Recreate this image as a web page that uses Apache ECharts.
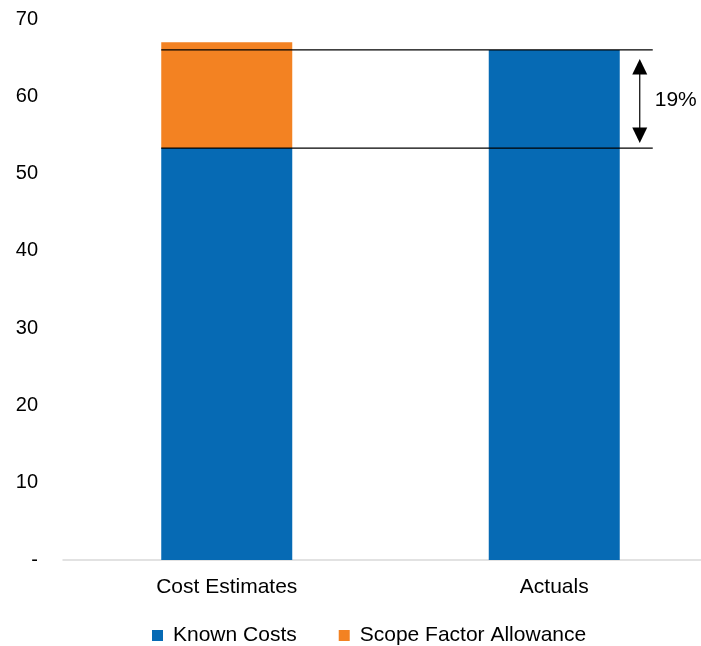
<!DOCTYPE html>
<html>
<head>
<meta charset="utf-8">
<script src="https://cdn.jsdelivr.net/npm/echarts@6/dist/echarts.min.js"></script>
<style>
html,body{margin:0;padding:0;background:#fff;overflow:hidden;width:701px;height:646px;}
#chart{width:719px;height:646px;}
</style>
</head>
<body>
<div id="chart"></div>
<script>
const categories = ['Cost Estimates', 'Actuals'];
const knownCosts = [53.3, 66];
const scopeFactorAllowance = [13.7, 0];
const yTicks = [0, 10, 20, 30, 40, 50, 60, 70];
const gapLabel = '19%';

const FONT = '"Liberation Sans", Arial, sans-serif';
const chart = echarts.init(document.getElementById('chart'), null, {renderer: 'canvas'});

chart.setOption({
  animation: false,
  grid: {left: 63, right: 1, top: 19, bottom: 86, containLabel: false},
  legend: {
    data: ['Known Costs', 'Scope Factor Allowance'],
    left: 147, top: 620,
    icon: 'rect', itemWidth: 11, itemHeight: 11, itemGap: 42,
    textStyle: {fontFamily: FONT, fontSize: 21, color: '#000', padding: [0, 0, 0, 5]}
  },
  xAxis: {
    type: 'category', data: categories,
    axisLine: {lineStyle: {color: '#d9d9d9', width: 1.5}},
    axisTick: {show: false},
    axisLabel: {fontFamily: FONT, fontSize: 21, color: '#000', margin: 17}
  },
  yAxis: {
    type: 'value', min: yTicks[0], max: yTicks[yTicks.length - 1], interval: 10,
    axisLine: {show: false}, axisTick: {show: false}, splitLine: {show: false},
    axisLabel: {fontFamily: FONT, fontSize: 20, color: '#000', margin: 25,
      formatter: v => v === 0 ? '-' : String(v)}
  },
  series: [
    {name: 'Known Costs', type: 'bar', stack: 'total', barWidth: '40%',
     itemStyle: {color: '#066AB4'}, data: knownCosts},
    {name: 'Scope Factor Allowance', type: 'bar', stack: 'total', barWidth: '40%',
     itemStyle: {color: '#F38222'}, data: scopeFactorAllowance},
    {name: 'annotation', type: 'custom', silent: true, clip: false, z: 10,
     data: [[0, knownCosts[0], knownCosts[1]]],
     encode: {x: 0, y: 1},
     renderItem: function (params, api) {
       const band = api.size([1, 0])[0];
       const low = api.coord([0, api.value(1)]);
       const high = api.coord([1, api.value(2)]);
       const x0 = low[0] - band * 0.2;
       const x1 = high[0] + band * 0.2 + 33;
       const ax = x1 - 13;
       const yTop = high[1] + 9;
       const yBot = low[1] - 5;
       const lineStyle = {stroke: '#000', lineWidth: 1.3};
       return {
         type: 'group',
         children: [
           {type: 'line', shape: {x1: x0, y1: high[1], x2: x1, y2: high[1]}, style: lineStyle},
           {type: 'line', shape: {x1: x0, y1: low[1], x2: x1, y2: low[1]}, style: lineStyle},
           {type: 'line', shape: {x1: ax, y1: yTop + 10, x2: ax, y2: yBot - 10}, style: {stroke: '#000', lineWidth: 1.2}},
           {type: 'polygon', shape: {points: [[ax, yTop], [ax - 7.5, yTop + 15.5], [ax + 7.5, yTop + 15.5]]}, style: {fill: '#000'}},
           {type: 'polygon', shape: {points: [[ax, yBot], [ax - 7.5, yBot - 15.5], [ax + 7.5, yBot - 15.5]]}, style: {fill: '#000'}},
           {type: 'text', style: {text: gapLabel, x: ax + 15, y: (high[1] + low[1]) / 2 + 1,
             verticalAlign: 'middle', align: 'left', fontFamily: FONT, fontSize: 21, fill: '#000'}}
         ]
       };
     }
    }
  ]
});
</script>
</body>
</html>
